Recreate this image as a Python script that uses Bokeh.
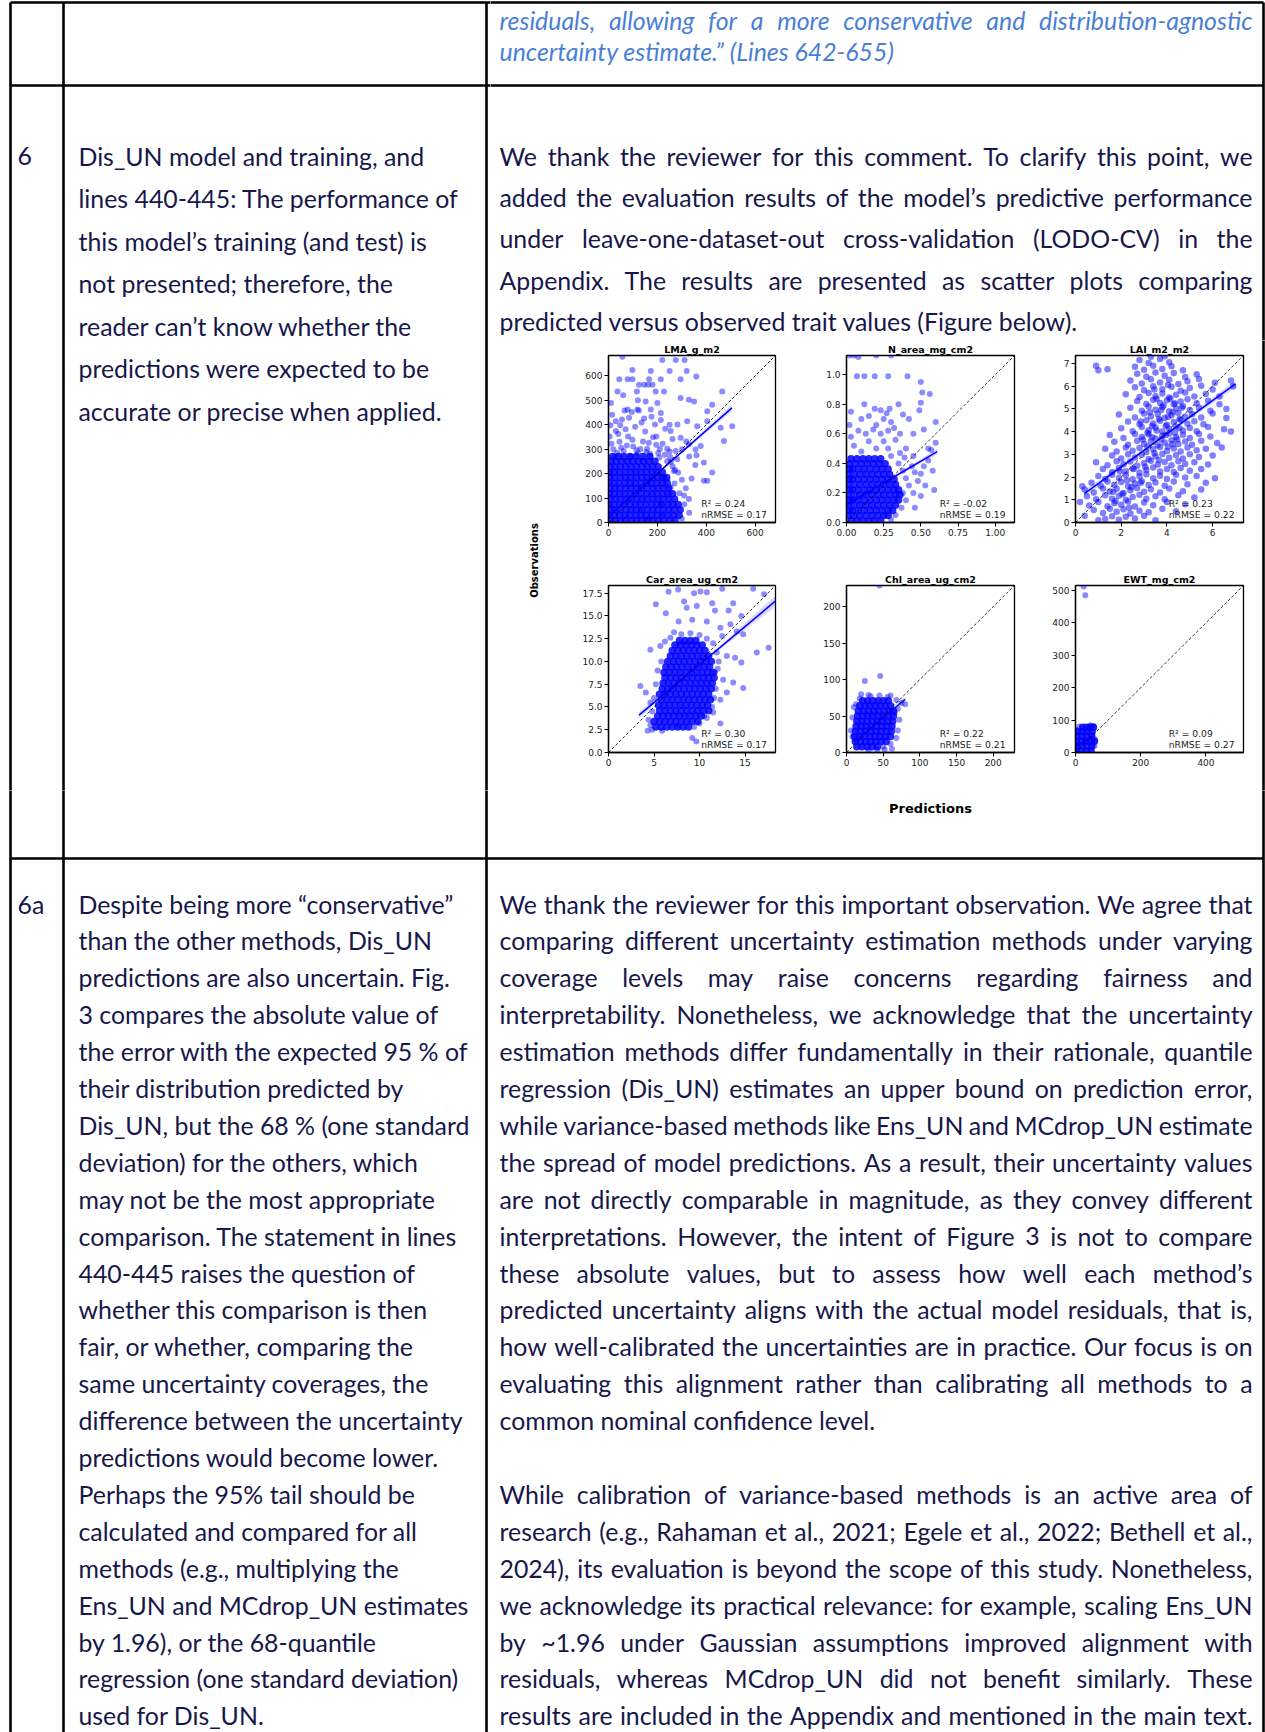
import os, glob, math
from bokeh.plotting import figure
from bokeh.models import Range1d, FixedTicker, ColumnDataSource
from bokeh.layouts import column, row
from bokeh.embed import file_html
from bokeh.resources import INLINE
from bokeh.core.properties import value

# ======================= DATA : scatter panels =======================
panel_titles = ["LMA_g_m2", "N_area_mg_cm2", "LAI_m2_m2", "Car_area_ug_cm2", "Chl_area_ug_cm2", "EWT_mg_cm2"]
r2_text = ["0.24", "-0.02", "0.23", "0.30", "0.22", "0.09"]
nrmse_text = ["0.17", "0.19", "0.22", "0.17", "0.21", "0.27"]
axis_max = [683, 1.13, 7.35, 18.35, 229, 515]

x_ticks = [[0, 200, 400, 600], [0, 0.25, 0.5, 0.75, 1.0], [0, 2, 4, 6], [0, 5, 10, 15], [0, 50, 100, 150, 200], [0, 200, 400]]
x_tick_labels = [["0", "200", "400", "600"], ["0.00", "0.25", "0.50", "0.75", "1.00"], ["0", "2", "4", "6"],
                 ["0", "5", "10", "15"], ["0", "50", "100", "150", "200"], ["0", "200", "400"]]
y_ticks = [[0, 100, 200, 300, 400, 500, 600], [0, 0.2, 0.4, 0.6, 0.8, 1.0], [0, 1, 2, 3, 4, 5, 6, 7],
           [0, 2.5, 5, 7.5, 10, 12.5, 15, 17.5], [0, 50, 100, 150, 200], [0, 100, 200, 300, 400, 500]]
y_tick_labels = [["0", "100", "200", "300", "400", "500", "600"], ["0.0", "0.2", "0.4", "0.6", "0.8", "1.0"],
                 ["0", "1", "2", "3", "4", "5", "6", "7"],
                 ["0.0", "2.5", "5.0", "7.5", "10.0", "12.5", "15.0", "17.5"],
                 ["0", "50", "100", "150", "200"], ["0", "100", "200", "300", "400", "500"]]

reg_x = [[0, 505], [0, 0.61], [0.39, 7.0], [3.35, 18.3], [10, 80], [2, 55]]
reg_y = [[25, 469], [0.12, 0.48], [1.27, 6.1], [4.1, 16.6], [14, 73], [18, 52]]
ci_half = [[12, 4, 14], [0.02, 0.006, 0.02], [0.15, 0.05, 0.17], [0.35, 0.1, 0.6], [3, 1, 3], [3, 1, 3]]

# ---- LMA (dense core rows: y -> list of x) ----
LMA_core = {
    8: [6, 27, 49, 70, 93, 115, 137, 158, 181, 203, 226, 249, 272],
    30: [3, 24, 46, 68, 89, 112, 134, 155, 178, 200, 221, 244, 266, 289],
    52: [7, 26, 48, 71, 92, 113, 136, 159, 180, 201, 224, 246, 268, 293],
    74: [2, 22, 45, 66, 88, 110, 131, 154, 177, 198, 219, 243, 264, 285],
    96: [6, 28, 49, 72, 93, 116, 137, 158, 182, 203, 224, 247, 270],
    118: [4, 24, 46, 67, 90, 111, 134, 157, 178, 199, 222, 243, 262],
    140: [5, 26, 47, 70, 92, 114, 135, 158, 181, 202, 224, 246],
    162: [3, 23, 44, 67, 89, 110, 133, 156, 176, 198, 221, 240],
    184: [5, 25, 48, 69, 90, 113, 136, 157, 179, 201, 222, 238],
    206: [4, 24, 46, 68, 91, 112, 133, 156, 178, 199, 220],
    228: [6, 27, 48, 70, 92, 114, 137, 158, 180, 203],
    250: [9, 31, 54, 76, 98, 121, 143, 166, 190],
    270: [17, 41, 63, 88, 113, 141, 169],
}
LMA_extra = [
    (57, 678), (220, 665), (275, 665), (311, 665), (98, 624), (173, 620), (250, 620), (320, 620),
    (44, 586), (78, 586), (98, 586), (166, 586), (214, 586), (295, 586), (359, 597),
    (125, 563), (146, 563), (162, 563), (180, 563), (37, 536), (116, 536), (193, 536), (227, 536), (465, 536),
    (295, 509), (329, 502), (350, 495), (10, 489), (152, 495), (200, 489), (424, 482),
    (78, 462), (118, 462), (173, 462), (404, 455), (214, 448), (84, 428), (146, 425), (322, 414), (404, 414),
    (282, 401), (363, 394), (459, 387), (506, 394), (472, 333), (30, 414), (30, 374), (254, 374), (295, 347),
    (329, 320), (377, 313), (356, 299), (390, 245), (424, 204), (404, 171), (390, 171), (254, 144), (309, 110),
    (329, 96), (227, 184), (268, 211), (214, 76), (221, 28), (132, 49), (166, 15),
    (20, 300), (45, 330), (62, 292), (80, 352), (101, 311), (120, 283), (141, 331), (158, 302), (182, 349),
    (203, 284), (221, 322), (240, 302), (70, 381), (109, 392), (150, 372), (190, 401), (232, 383), (15, 441),
    (55, 421), (95, 452), (135, 409), (176, 432), (214, 419), (40, 362), (90, 272), (130, 301), (170, 281),
    (210, 301), (252, 268), (281, 259), (301, 300), (318, 331), (262, 342), (25, 268), (5, 352), (66, 458),
    (124, 458), (8, 398), (48, 398), (196, 352), (275, 292), (240, 250), (262, 230), (285, 205), (300, 175),
    (316, 140), (270, 160), (290, 120), (310, 75), (330, 40), (300, 15), (340, 180), (355, 235), (330, 270),
    (360, 275), (250, 400), (120, 500), (60, 520), (35, 285), (75, 315), (115, 296), (155, 288), (195, 318),
    (230, 277), (12, 322), (52, 306), (98, 338), (165, 326), (208, 266), (255, 248), (272, 215), (250, 290),
]

# ---- N_area ----
N_core = {
    0.012: [0.03, 0.07, 0.11, 0.15, 0.19, 0.23],
    0.047: [0.01, 0.05, 0.09, 0.13, 0.17, 0.21, 0.25, 0.28],
    0.082: [0.02, 0.04, 0.08, 0.12, 0.16, 0.20, 0.24, 0.28, 0.31],
    0.117: [0.01, 0.05, 0.09, 0.13, 0.17, 0.21, 0.25, 0.29, 0.33],
    0.152: [0.02, 0.04, 0.08, 0.12, 0.16, 0.20, 0.24, 0.28, 0.32, 0.35],
    0.187: [0.01, 0.05, 0.09, 0.13, 0.17, 0.21, 0.25, 0.29, 0.33, 0.36],
    0.222: [0.02, 0.04, 0.08, 0.12, 0.16, 0.20, 0.24, 0.28, 0.32, 0.35],
    0.257: [0.01, 0.05, 0.09, 0.13, 0.17, 0.21, 0.25, 0.29, 0.33],
    0.292: [0.02, 0.04, 0.08, 0.12, 0.16, 0.20, 0.24, 0.28, 0.32],
    0.327: [0.01, 0.05, 0.09, 0.13, 0.17, 0.21, 0.25, 0.29],
    0.362: [0.02, 0.04, 0.08, 0.12, 0.16, 0.20, 0.24, 0.28],
    0.397: [0.02, 0.06, 0.10, 0.14, 0.18, 0.22, 0.26],
    0.432: [0.03, 0.07, 0.11, 0.15, 0.19, 0.23],
}
N_extra = [
    (0.02, 1.13), (0.05, 1.13), (0.08, 1.12), (0.2, 1.13), (0.3, 1.13),
    (0.07, 0.99), (0.12, 0.99), (0.19, 0.99), (0.28, 0.99), (0.41, 0.99),
    (0.5, 0.95), (0.51, 0.88), (0.56, 0.87), (0.5, 0.81), (0.49, 0.76), (0.29, 0.77), (0.19, 0.77),
    (0.23, 0.76), (0.27, 0.74), (0.42, 0.70), (0.6, 0.68), (0.52, 0.63), (0.6, 0.54), (0.57, 0.49),
    (0.52, 0.38), (0.59, 0.22), (0.46, 0.34), (0.39, 0.44), (0.12, 0.8), (0.03, 0.75), (0.38, 0.73),
    (0.45, 0.6), (0.35, 0.8),
    (0.3, 0.45), (0.35, 0.4), (0.38, 0.35), (0.4, 0.3), (0.42, 0.25), (0.38, 0.2), (0.4, 0.15), (0.37, 0.1),
    (0.33, 0.05), (0.3, 0.02), (0.45, 0.2), (0.48, 0.28), (0.5, 0.33), (0.44, 0.38), (0.36, 0.47), (0.28, 0.5),
    (0.2, 0.5), (0.1, 0.48), (0.05, 0.52), (0.15, 0.55), (0.25, 0.55), (0.33, 0.56), (0.4, 0.5), (0.45, 0.45),
    (0.55, 0.42), (0.58, 0.35), (0.53, 0.25), (0.5, 0.18), (0.46, 0.1), (0.03, 0.58), (0.08, 0.62), (0.13, 0.6),
    (0.18, 0.63), (0.23, 0.6), (0.28, 0.62), (0.32, 0.64), (0.36, 0.6), (0.02, 0.66), (0.1, 0.7), (0.15, 0.72),
    (0.2, 0.66), (0.25, 0.7), (0.3, 0.68), (0.55, 0.5),
]

# ---- LAI (medium-density cloud) ----
LAI_pts = [
    (1.3, 0.15), (1.6, 0.28), (1.9, 0.12), (2.2, 0.25), (2.6, 0.18), (3.0, 0.3), (3.5, 0.1),
    (0.8, 0.55), (1.2, 0.42), (1.5, 0.6), (1.8, 0.47), (2.1, 0.58), (2.4, 0.4), (2.8, 0.52), (3.2, 0.45), (3.8, 0.6), (4.4, 0.5),
    (0.6, 0.75), (1.0, 0.9), (1.4, 0.72), (1.7, 0.85), (2.0, 0.78), (2.3, 0.92), (2.6, 0.7), (3.0, 0.88), (3.4, 0.76), (4.0, 0.9), (4.8, 0.8),
    (0.5, 1.15), (0.9, 1.02), (1.3, 1.2), (1.6, 1.05), (1.9, 1.18), (2.2, 1.0), (2.5, 1.12), (2.8, 1.22), (3.1, 1.05), (3.5, 1.15), (3.9, 1.02), (4.5, 1.2), (5.2, 1.1),
    (0.4, 1.45), (0.8, 1.32), (1.2, 1.5), (1.5, 1.36), (1.8, 1.48), (2.1, 1.3), (2.4, 1.42), (2.7, 1.52), (3.0, 1.35), (3.3, 1.46), (3.7, 1.32), (4.1, 1.5), (4.7, 1.38), (5.5, 1.45),
    (0.7, 1.75), (1.1, 1.62), (1.4, 1.8), (1.7, 1.66), (2.0, 1.78), (2.3, 1.6), (2.6, 1.72), (2.9, 1.82), (3.2, 1.65), (3.5, 1.76), (3.9, 1.62), (4.3, 1.8), (4.9, 1.68), (5.7, 1.75),
    (1.0, 2.05), (1.3, 1.92), (1.6, 2.1), (1.9, 1.96), (2.2, 2.08), (2.5, 1.9), (2.8, 2.02), (3.1, 2.12), (3.4, 1.95), (3.7, 2.06), (4.0, 1.92), (4.4, 2.1), (4.8, 1.98), (5.3, 2.05), (6.1, 1.95),
    (1.2, 2.35), (1.6, 2.22), (1.9, 2.4), (2.2, 2.26), (2.5, 2.38), (2.8, 2.2), (3.1, 2.32), (3.4, 2.42), (3.7, 2.25), (4.0, 2.36), (4.3, 2.22), (4.6, 2.4), (5.0, 2.28), (5.5, 2.35),
    (0.9, 2.65), (1.4, 2.52), (1.8, 2.7), (2.1, 2.56), (2.4, 2.68), (2.7, 2.5), (3.0, 2.62), (3.3, 2.72), (3.6, 2.55), (3.9, 2.66), (4.2, 2.52), (4.5, 2.7), (4.8, 2.58), (5.2, 2.65), (5.8, 2.55),
    (1.6, 2.95), (2.0, 2.82), (2.3, 3.0), (2.6, 2.86), (2.9, 2.98), (3.2, 2.8), (3.5, 2.92), (3.8, 3.02), (4.1, 2.85), (4.4, 2.96), (4.7, 2.82), (5.0, 3.0), (5.4, 2.88), (6.0, 2.95),
    (1.3, 3.25), (1.8, 3.12), (2.2, 3.3), (2.5, 3.16), (2.8, 3.28), (3.1, 3.1), (3.4, 3.22), (3.7, 3.32), (4.0, 3.15), (4.3, 3.26), (4.6, 3.12), (4.9, 3.3), (5.3, 3.18), (5.7, 3.25),
    (1.7, 3.55), (2.3, 3.42), (2.7, 3.6), (3.0, 3.46), (3.3, 3.58), (3.6, 3.4), (3.9, 3.52), (4.2, 3.62), (4.5, 3.45), (4.8, 3.56), (5.1, 3.42), (5.5, 3.6), (6.2, 3.5),
    (1.5, 3.85), (2.1, 3.72), (2.6, 3.9), (2.9, 3.76), (3.2, 3.88), (3.5, 3.7), (3.8, 3.82), (4.1, 3.92), (4.4, 3.75), (4.7, 3.86), (5.0, 3.72), (5.4, 3.9), (5.9, 3.78),
    (2.0, 4.15), (2.5, 4.02), (2.9, 4.2), (3.2, 4.06), (3.5, 4.18), (3.8, 4.0), (4.1, 4.12), (4.4, 4.22), (4.7, 4.05), (5.0, 4.16), (5.3, 4.02), (5.8, 4.2), (6.5, 4.1),
    (2.3, 4.45), (2.8, 4.32), (3.1, 4.5), (3.4, 4.36), (3.7, 4.48), (4.0, 4.3), (4.3, 4.42), (4.6, 4.52), (4.9, 4.35), (5.2, 4.46), (5.6, 4.32),
    (1.9, 4.75), (2.6, 4.62), (3.0, 4.8), (3.3, 4.66), (3.6, 4.78), (3.9, 4.6), (4.2, 4.72), (4.5, 4.82), (4.8, 4.65), (5.1, 4.76), (5.5, 4.62), (6.0, 4.8),
    (2.4, 5.05), (2.9, 4.92), (3.2, 5.1), (3.5, 4.96), (3.8, 5.08), (4.1, 4.9), (4.4, 5.02), (4.7, 5.12), (5.0, 4.95), (5.4, 5.06), (5.9, 4.92), (6.6, 5.0),
    (2.7, 5.35), (3.1, 5.22), (3.4, 5.4), (3.7, 5.26), (4.0, 5.38), (4.3, 5.2), (4.6, 5.32), (4.9, 5.42), (5.3, 5.25), (5.8, 5.36),
    (2.2, 5.65), (2.8, 5.52), (3.2, 5.7), (3.5, 5.56), (3.8, 5.68), (4.1, 5.5), (4.4, 5.62), (4.8, 5.72), (5.2, 5.55), (5.7, 5.66), (6.3, 5.55),
    (2.6, 5.95), (3.0, 5.82), (3.4, 6.0), (3.8, 5.86), (4.2, 5.98), (4.6, 5.8), (5.0, 5.92), (5.5, 6.02), (6.0, 5.85),
    (2.4, 6.25), (2.9, 6.12), (3.3, 6.3), (3.7, 6.16), (4.1, 6.28), (4.5, 6.1), (4.9, 6.22), (5.4, 6.32), (6.1, 6.15), (6.8, 6.25),
    (2.7, 6.55), (3.1, 6.42), (3.5, 6.6), (3.9, 6.46), (4.3, 6.58), (4.8, 6.4), (5.3, 6.52),
    (1.0, 6.7), (1.4, 6.75), (2.6, 6.85), (3.0, 6.72), (3.4, 6.9), (3.8, 6.76), (4.2, 6.88), (4.7, 6.7),
    (0.9, 6.9), (2.8, 7.15), (3.2, 7.02), (3.7, 7.2), (4.1, 7.05), (3.3, 7.3), (3.9, 7.32),
    (0.3, 1.6), (0.2, 0.9), (0.4, 0.3), (1.0, 0.1), (6.6, 4.6), (6.3, 5.2), (6.9, 6.0), (6.8, 4.0), (6.4, 3.3),
    (3.15, 3.35), (3.45, 3.05), (3.75, 3.65), (4.05, 3.35), (4.35, 3.95), (3.35, 4.25), (3.65, 4.55), (3.95, 4.25),
    (4.25, 4.85), (4.55, 4.15), (3.25, 4.85), (3.85, 5.15), (4.15, 5.45), (3.55, 5.45), (4.45, 3.65), (3.15, 3.95),
    (2.85, 4.45), (4.65, 5.05), (3.05, 2.45), (3.65, 2.75), (2.45, 1.55), (2.05, 1.25), (1.75, 0.95), (2.35, 0.65),
    (1.95, 2.25), (3.35, 3.75), (3.95, 3.85), (4.25, 3.45), (3.55, 4.05), (4.05, 4.65), (3.75, 4.95), (4.35, 5.25),
    (2.95, 3.65), (2.55, 2.35), (2.25, 1.85), (1.65, 1.35), (2.85, 1.75), (4.55, 4.55), (3.45, 5.85), (4.05, 6.05),
]

# ---- Car_area ----
Car_core = {
    2.8: [5.2, 5.8, 6.4, 7.0, 7.6, 8.2, 8.8],
    3.4: [5.0, 5.6, 6.2, 6.8, 7.4, 8.0, 8.6, 9.2, 9.8],
    4.0: [5.4, 6.0, 6.6, 7.2, 7.8, 8.4, 9.0, 9.6, 10.2],
    4.6: [5.6, 6.2, 6.8, 7.4, 8.0, 8.6, 9.2, 9.8, 10.4, 11.0],
    5.2: [5.5, 6.1, 6.7, 7.3, 7.9, 8.5, 9.1, 9.7, 10.3, 10.9],
    5.8: [5.8, 6.4, 7.0, 7.6, 8.2, 8.8, 9.4, 10.0, 10.6, 11.2],
    6.4: [5.6, 6.2, 6.8, 7.4, 8.0, 8.6, 9.2, 9.8, 10.4, 11.0],
    7.0: [5.9, 6.5, 7.1, 7.7, 8.3, 8.9, 9.5, 10.1, 10.7, 11.3],
    7.6: [6.0, 6.6, 7.2, 7.8, 8.4, 9.0, 9.6, 10.2, 10.8, 11.4],
    8.2: [6.2, 6.8, 7.4, 8.0, 8.6, 9.2, 9.8, 10.4, 11.0, 11.6],
    8.8: [6.1, 6.7, 7.3, 7.9, 8.5, 9.1, 9.7, 10.3, 10.9, 11.5],
    9.4: [6.3, 6.9, 7.5, 8.1, 8.7, 9.3, 9.9, 10.5, 11.1],
    10.0: [6.5, 7.1, 7.7, 8.3, 8.9, 9.5, 10.1, 10.7, 11.3],
    10.6: [6.8, 7.4, 8.0, 8.6, 9.2, 9.8, 10.4, 11.0],
    11.2: [7.0, 7.6, 8.2, 8.8, 9.4, 10.0, 10.6],
    11.8: [7.3, 7.9, 8.5, 9.1, 9.7, 10.3],
    12.3: [7.8, 8.4, 9.0, 9.6],
}
Car_extra = [
    (6.6, 17.65), (7.65, 17.9), (9.4, 17.5), (10.1, 17.7), (10.8, 17.6), (12.5, 18.0), (15.9, 18.0), (17.1, 17.4),
    (5.2, 16.3), (6.3, 15.3), (8.3, 16.6), (8.6, 15.9), (9.7, 16.1), (11.4, 16.4), (11.7, 15.6), (13.2, 15.6),
    (13.7, 16.4), (14.6, 15.0), (9.2, 14.6), (7.7, 14.4), (10.8, 14.4), (12.3, 13.7), (13.4, 14.1), (14.1, 13.3),
    (14.8, 13.0), (12.5, 12.8), (7.2, 13.2), (5.7, 11.7), (4.6, 11.3), (16.3, 11.0), (17.6, 11.5), (13.0, 10.6),
    (13.9, 10.4), (14.6, 9.9), (3.5, 7.3), (4.1, 6.6), (4.6, 5.5), (11.7, 8.8), (12.6, 8.0), (13.7, 7.7),
    (14.8, 7.1), (13.0, 6.6), (12.3, 5.8), (11.5, 4.4), (10.5, 4.0), (12.3, 3.2), (9.65, 1.2), (5.9, 2.4),
    (4.3, 2.4), (7.5, 2.9), (9.2, 1.6),
    (4.8, 4.5), (5.0, 6.0), (5.2, 7.5), (5.4, 9.0), (5.8, 10.0), (6.2, 12.2), (6.8, 12.6), (8.0, 13.0),
    (9.0, 13.1), (10.0, 12.9), (10.8, 12.5), (11.5, 12.0), (11.9, 11.0), (12.1, 10.0), (12.0, 9.2), (11.8, 7.0),
    (11.6, 6.0), (11.4, 5.0), (10.8, 3.8), (10.0, 3.2), (9.4, 2.8), (4.6, 3.0), (4.4, 3.6), (4.8, 2.5),
]

# ---- Chl_area ----
Chl_core = {
    8: [14, 21, 28, 35, 42],
    15: [12, 19, 26, 33, 40, 47, 54],
    22: [11, 18, 25, 32, 39, 46, 53, 60],
    29: [12, 19, 26, 33, 40, 47, 54, 61],
    36: [13, 20, 27, 34, 41, 48, 55, 62],
    43: [14, 21, 28, 35, 42, 49, 56, 63],
    50: [15, 22, 29, 36, 43, 50, 57, 64],
    57: [16, 23, 30, 37, 44, 51, 58, 64],
    64: [18, 25, 32, 39, 46, 53, 60],
    71: [22, 29, 36, 43, 50, 57],
}
Chl_extra = [
    (20, 80), (30, 79), (45, 78), (60, 78), (68, 72), (75, 68), (80, 66), (70, 30), (68, 20), (60, 12),
    (50, 8), (42, 4), (52, 4), (8, 48), (10, 62), (13, 66), (25, 98), (46, 105), (45, 229), (72, 45),
    (66, 55), (70, 60), (18, 74), (33, 77), (56, 76), (6, 30), (8, 22), (30, 3), (62, 5),
]

# ---- EWT ----
EWT_core = {
    5: [3, 18, 33, 48],
    20: [5, 20, 35, 50],
    35: [3, 18, 33, 48, 58],
    50: [5, 20, 35, 50],
    65: [6, 21, 36, 51],
    78: [22, 34, 46, 55],
}
EWT_extra = [(30, 485), (25, 512), (58, 20), (12, 80), (45, 84), (55, 82), (2, 70), (60, 40)]

# ======================= DATA : document text =======================
top_right_lines = ["residuals, allowing for a more conservative and distribution-agnostic",
                   "uncertainty estimate.\u201d (Lines 642-655)"]
row6_num = "6"
row6_mid = ["Dis_UN model and training, and",
            "lines 440-445: The performance of",
            "this model\u2019s training (and test) is",
            "not presented; therefore, the",
            "reader can\u2019t know whether the",
            "predictions were expected to be",
            "accurate or precise when applied."]
row6_right = ["We thank the reviewer for this comment. To clarify this point, we",
              "added the evaluation results of the model\u2019s predictive performance",
              "under leave-one-dataset-out cross-validation (LODO-CV) in the",
              "Appendix. The results are presented as scatter plots comparing",
              "predicted versus observed trait values (Figure below)."]
row6a_num = "6a"
row6a_mid = ["Despite being more \u201cconservative\u201d",
             "than the other methods, Dis_UN",
             "predictions are also uncertain. Fig.",
             "3 compares the absolute value of",
             "the error with the expected 95 % of",
             "their distribution predicted by",
             "Dis_UN, but the 68 % (one standard",
             "deviation) for the others, which",
             "may not be the most appropriate",
             "comparison. The statement in lines",
             "440-445 raises the question of",
             "whether this comparison is then",
             "fair, or whether, comparing the",
             "same uncertainty coverages, the",
             "difference between the uncertainty",
             "predictions would become lower.",
             "Perhaps the 95% tail should be",
             "calculated and compared for all",
             "methods (e.g., multiplying the",
             "Ens_UN and MCdrop_UN estimates",
             "by 1.96), or the 68-quantile",
             "regression (one standard deviation)",
             "used for Dis_UN."]
row6a_right_p1 = ["We thank the reviewer for this important observation. We agree that",
                  "comparing different uncertainty estimation methods under varying",
                  "coverage levels may raise concerns regarding fairness and",
                  "interpretability. Nonetheless, we acknowledge that the uncertainty",
                  "estimation methods differ fundamentally in their rationale, quantile",
                  "regression (Dis_UN) estimates an upper bound on prediction error,",
                  "while variance-based methods like Ens_UN and MCdrop_UN estimate",
                  "the spread of model predictions. As a result, their uncertainty values",
                  "are not directly comparable in magnitude, as they convey different",
                  "interpretations. However, the intent of Figure 3 is not to compare",
                  "these absolute values, but to assess how well each method\u2019s",
                  "predicted uncertainty aligns with the actual model residuals, that is,",
                  "how well-calibrated the uncertainties are in practice. Our focus is on",
                  "evaluating this alignment rather than calibrating all methods to a",
                  "common nominal confidence level."]
row6a_right_p2 = ["While calibration of variance-based methods is an active area of",
                  "research (e.g., Rahaman et al., 2021; Egele et al., 2022; Bethell et al.,",
                  "2024), its evaluation is beyond the scope of this study. Nonetheless,",
                  "we acknowledge its practical relevance: for example, scaling Ens_UN",
                  "by ~1.96 under Gaussian assumptions improved alignment with",
                  "residuals, whereas MCdrop_UN did not benefit similarly. These",
                  "results are included in the Appendix and mentioned in the main text."]
x_axis_title = "Predictions"
y_axis_title = "Observations"

# ======================= STYLE / GEOMETRY (page pixels) =======================
PAGE_W, PAGE_H = 1265, 1732
BODY_COLOR = "#17174a"
BLUE_TEXT = "#4a7fd8"
POINT_COLOR = "#0000ff"
LINE_W = 2.6
BORDER_X = [10, 63, 486, 1263]
Y_TOP, Y_DIV1, Y_DIV2, Y_END = 2, 85, 858, 1740
X_NUM, X_MID, X_R0, X_R1 = 17, 78, 499, 1252
TOP_Y = [19, 50]
R6_Y0, R6_DY = 155, 42.5
R6R_DY = 41.4
R6A_Y0, R6A_DY = 903, 36.9
BAND_Y0, BAND_Y1 = 340, 790
SPLIT_X = 490          # left part (number + comment columns) | right part (reply column)
GAP_X1 = 570           # end of the spacer left of the scatter panels

# ---------- text measurement (for justification) ----------
def find_font(fname):
    for root in ("/usr/share/fonts", "/usr/local/share/fonts",
                 os.path.expanduser("~/.local/share/fonts"), os.path.expanduser("~/.fonts")):
        hits = glob.glob(os.path.join(root, "**", fname), recursive=True)
        if hits:
            return hits[0]
    return None

try:
    from PIL import ImageFont
except Exception:
    ImageFont = None


class Meas:
    def __init__(self, fname, fallback=0.47):
        self.f = None
        self.fb = fallback
        path = find_font(fname)
        if ImageFont is not None and path:
            try:
                self.f = ImageFont.truetype(path, 100)
            except Exception:
                self.f = None

    def w(self, s, size):
        if self.f is None:
            return len(s) * self.fb * size
        return self.f.getlength(s) * size / 100.0


M_REG = Meas("Lato-Regular.ttf")
M_IT = Meas("Lato-Italic.ttf")
M_DJB = Meas("DejaVuSans-Bold.ttf", 0.68)

calib = [("Dis_UN model and training, and", 344.1), ("lines 440-445: The performance of", 372.6),
         ("accurate or precise when applied.", 363.7), ("Despite being more \u201cconservative\u201d", 376.7),
         ("Dis_UN, but the 68 % (one standard", 387.0), ("difference between the uncertainty", 384.0),
         ("regression (one standard deviation)", 384.0)]
ratios = sorted(rw / M_REG.w(t, 1.0) for t, rw in calib)
BODY = ratios[len(ratios) // 2]
BODY = max(16.0, min(26.0, BODY))

items = []


def add_text(x, y, text, size, color, font, meas=None, style="normal", align="left", angle=0.0):
    w = meas.w(text, size) if meas is not None else len(text) * size * 0.6
    items.append(dict(x=x, y=y, text=text, size="%.2fpx" % size, sz=size, color=color, font=font,
                      style=style, align=align, angle=angle, w=w))


def add_plain(lines, x, y0, dy, color=BODY_COLOR, style="normal", meas=M_REG):
    for i, t in enumerate(lines):
        add_text(x, y0 + i * dy, t, BODY, color, "Lato", meas, style)


def add_justified(line, y, color=BODY_COLOR, style="normal", meas=M_REG, last=False):
    if last:
        add_text(X_R0, y, line, BODY, color, "Lato", meas, style)
        return
    words = line.split(" ")
    ws = [meas.w(wd, BODY) for wd in words]
    sp = meas.w(" ", BODY)
    W = X_R1 - X_R0
    tot = sum(ws)
    n = len(words)
    size = BODY
    gap = (W - tot) / (n - 1)
    if gap < 0.3 * sp:
        f = W / (tot + 0.3 * sp * (n - 1))
        size = BODY * f
        ws = [v * f for v in ws]
        gap = 0.3 * sp * f
    x = X_R0
    for wd, wv in zip(words, ws):
        add_text(x, y, wd, size, color, "Lato", meas, style)
        x += wv + gap


# top row (italic, blue)
add_justified(top_right_lines[0], TOP_Y[0], BLUE_TEXT, "italic", M_IT)
add_justified(top_right_lines[1], TOP_Y[1], BLUE_TEXT, "italic", M_IT, last=True)
# row 6
add_text(X_NUM, R6_Y0, row6_num, BODY, BODY_COLOR, "Lato", M_REG)
add_plain(row6_mid, X_MID, R6_Y0, R6_DY)
for i, t in enumerate(row6_right):
    add_justified(t, R6_Y0 + i * R6R_DY, last=(i == len(row6_right) - 1))
# row 6a
add_text(X_NUM, R6A_Y0, row6a_num, BODY, BODY_COLOR, "Lato", M_REG)
add_plain(row6a_mid, X_MID, R6A_Y0, R6A_DY)
for i, t in enumerate(row6a_right_p1):
    add_justified(t, R6A_Y0 + i * R6A_DY, last=(i == len(row6a_right_p1) - 1))
for i, t in enumerate(row6a_right_p2):
    add_justified(t, R6A_Y0 + (i + len(row6a_right_p1) + 1) * R6A_DY)
# figure axis titles
add_text(930, 808, x_axis_title, 13, "black", "DejaVu Sans", M_DJB, "bold", "center")
add_text(534, 560, y_axis_title, 10, "black", "DejaVu Sans", M_DJB, "bold", "center", math.pi / 2)

segments = [(x, Y_TOP, x, Y_END) for x in BORDER_X]
segments += [(BORDER_X[0], y, BORDER_X[-1], y) for y in (Y_TOP, Y_DIV1, Y_DIV2)]


def overlaps(it, x0, x1, y0, y1):
    w, s = it["w"], it["sz"]
    if it["angle"] != 0:
        bx0, bx1, by0, by1 = it["x"] - 0.6 * s, it["x"] + 0.6 * s, it["y"] - w / 2, it["y"] + w / 2
    elif it["align"] == "center":
        bx0, bx1, by0, by1 = it["x"] - w / 2, it["x"] + w / 2, it["y"] - 0.6 * s, it["y"] + 0.6 * s
    else:
        bx0, bx1, by0, by1 = it["x"], it["x"] + w, it["y"] - 0.6 * s, it["y"] + 0.6 * s
    return bx1 > x0 and bx0 < x1 and by1 > y0 and by0 < y1


def page_fig(x0, x1, y0, y1):
    p = figure(width=int(x1 - x0), height=int(y1 - y0), x_range=Range1d(x0, x1), y_range=Range1d(y1, y0),
               min_border=0, toolbar_location=None, output_backend="svg", x_axis_type=None, y_axis_type=None)
    p.outline_line_color = None
    p.background_fill_color = "white"
    p.border_fill_color = "white"
    p.segment(x0=[s[0] for s in segments], y0=[s[1] for s in segments], x1=[s[2] for s in segments],
              y1=[s[3] for s in segments], line_color="black", line_width=LINE_W)
    sel = [it for it in items if overlaps(it, x0, x1, y0, y1)]
    if sel:
        src = ColumnDataSource({k: [it[k] for it in sel] for k in
                                ["x", "y", "text", "size", "color", "font", "style", "align", "angle"]})
        p.text(x="x", y="y", text="text", text_font="font", text_font_size="size", text_color="color",
               text_font_style="style", text_align="align", angle="angle", text_baseline="middle", source=src)
    return p


def core_xy(core):
    pts = [(x, y) for y, xs in core.items() for x in xs]
    return [p[0] for p in pts], [p[1] for p in pts]


def pts_xy(pts):
    return [p[0] for p in pts], [p[1] for p in pts]


panel_core = [core_xy(LMA_core), core_xy(N_core), ([], []), core_xy(Car_core), core_xy(Chl_core), core_xy(EWT_core)]
panel_extra = [pts_xy(LMA_extra), pts_xy(N_extra), pts_xy(LAI_pts), pts_xy(Car_extra), pts_xy(Chl_extra), pts_xy(EWT_extra)]


def make_panel(i, w, h, bl, br, bt, bb):
    lim = axis_max[i]
    p = figure(width=w, height=h, x_range=Range1d(0, lim), y_range=Range1d(0, lim),
               min_border_left=bl, min_border_right=br, min_border_top=bt, min_border_bottom=bb,
               toolbar_location=None, output_backend="svg", title=panel_titles[i])
    p.grid.visible = False
    p.background_fill_color = "white"
    p.border_fill_color = "white"
    p.outline_line_color = "black"
    p.outline_line_width = 1.3
    p.title.align = "center"
    p.title.text_font = "DejaVu Sans"
    p.title.text_font_size = "9.5px"
    p.title.text_font_style = "bold"
    p.title.text_color = "black"
    p.title.standoff = 2
    for ax, tk, tl in ((p.xaxis[0], x_ticks[i], x_tick_labels[i]), (p.yaxis[0], y_ticks[i], y_tick_labels[i])):
        ax.ticker = FixedTicker(ticks=tk)
        ax.major_label_overrides = {t: l for t, l in zip(tk, tl)}
        ax.minor_tick_line_color = None
        ax.major_tick_in = 0
        ax.major_tick_out = 4
        ax.major_tick_line_color = "black"
        ax.major_tick_line_width = 1
        ax.axis_line_color = "black"
        ax.axis_line_width = 1.3
        ax.major_label_text_font = "DejaVu Sans"
        ax.major_label_text_font_size = "9px"
        ax.major_label_text_color = "#222222"
        ax.major_label_standoff = 2
    cx, cy = panel_core[i]
    ex, ey = panel_extra[i]
    if cx:
        p.scatter(cx, cy, size=7.5, fill_color=POINT_COLOR, fill_alpha=0.85, line_color=None)
    dense = (i == 2)
    p.scatter(ex, ey, size=6.5 if dense else 6, fill_color=POINT_COLOR, fill_alpha=0.5 if dense else 0.45,
              line_color=None)
    rx, ry, hw = reg_x[i], reg_y[i], ci_half[i]
    xm = (rx[0] + rx[1]) / 2
    ym = (ry[0] + ry[1]) / 2
    bx = [rx[0], xm, rx[1]]
    by = [ry[0], ym, ry[1]]
    p.varea(x=bx, y1=[b - h_ for b, h_ in zip(by, hw)], y2=[b + h_ for b, h_ in zip(by, hw)],
            fill_color=POINT_COLOR, fill_alpha=0.15)
    p.line(rx, ry, line_color=POINT_COLOR, line_width=1.5)
    p.line([0, lim], [0, lim], line_color="black", line_width=0.8, line_dash="3 2")
    p.text(x=[lim * 0.555, lim * 0.555], y=[lim * 0.113, lim * 0.045],
           text=["R\u00b2 = " + r2_text[i], "nRMSE = " + nrmse_text[i]],
           text_font=value("DejaVu Sans"), text_font_size="9.2px", text_color="#222222",
           text_align="left", text_baseline="middle")
    return p


# column geometry: (width, border_left, border_right)
cols = [(240, 38, 35), (230, 36, 26), (210, 35, 7)]
rows_g = [(560 - BAND_Y0, 354 - BAND_Y0, 38), (BAND_Y1 - 560, 25, 38)]
panels = []
for r in range(2):
    for c in range(3):
        i = r * 3 + c
        w, bl, br = cols[c]
        h, bt, bb = rows_g[r]
        panels.append(make_panel(i, w, h, bl, br, bt, bb))

left_part = page_fig(0, SPLIT_X, 0, BAND_Y1)
right_top = page_fig(SPLIT_X, PAGE_W, 0, BAND_Y0)
gap_band = page_fig(SPLIT_X, GAP_X1, BAND_Y0, BAND_Y1)
right_band = page_fig(1250, PAGE_W, BAND_Y0, BAND_Y1)
bottom = page_fig(0, PAGE_W, BAND_Y1, PAGE_H)

layout = column(
    row(left_part,
        column(right_top,
               row(gap_band, column(panels[0], panels[3]), column(panels[1], panels[4]),
                   column(panels[2], panels[5]), right_band))),
    bottom)

open("out.html", "w").write(file_html(layout, INLINE))
